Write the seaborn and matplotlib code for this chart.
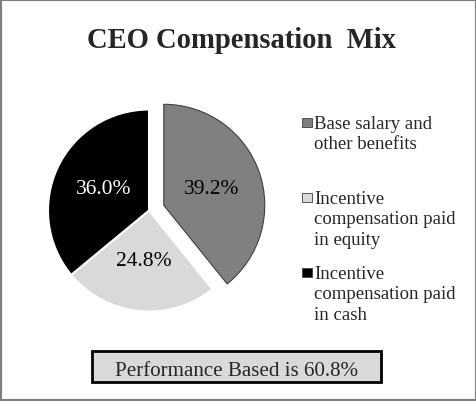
import matplotlib
matplotlib.use("Agg")
import matplotlib.pyplot as plt
from matplotlib.patches import Rectangle
import seaborn as sns

# ---- data ----
categories = ["Base salary and\nother benefits",
              "Incentive\ncompensation paid\nin equity",
              "Incentive\ncompensation paid\nin cash"]
values = [39.2, 24.8, 36.0]
slice_colors = ["#808080", "#d9d9d9", "#000000"]
label_colors = ["black", "black", "white"]
title = "CEO Compensation  Mix"
footer = "Performance Based is 60.8%"

sns.set_theme(style="white")
plt.rcParams['font.family'] = ['Liberation Serif', 'DejaVu Serif']

W, H = 477, 402
fig = plt.figure(figsize=(W / 100, H / 100), dpi=100)
fig.patch.set_facecolor("white")

def fx(px):
    return px / W

def fy(py):
    return 1 - py / H

# pie axes: center (149, 211.5) px, radius 101 px
cx, cy, R = 149, 211.5, 101
half = 1.5 * R
ax = fig.add_axes([fx(cx - half), fy(cy + half), 2 * half / W, 2 * half / H])
pal = sns.color_palette(slice_colors)
wedges, texts, autotexts = ax.pie(
    values, colors=pal, startangle=90, counterclock=False,
    explode=[0.155, 0, 0], autopct="%1.1f%%", pctdistance=0.5,
    wedgeprops=dict(edgecolor="white", linewidth=1.5),
    textprops=dict(fontsize=15.5))
wedges[0].set_edgecolor("#404040")
wedges[0].set_linewidth(0.8)
for t, c in zip(autotexts, label_colors):
    t.set_color(c)
ax.set_xlim(-1.5, 1.5)
ax.set_ylim(-1.5, 1.5)
ax.set_aspect("equal")
ax.axis("off")

# title
fig.text(fx(241.5), fy(48), title, ha="center", va="baseline",
         fontsize=20.6, fontweight="bold")

# legend (handles aligned with first line of each label)
for i, (lab, col) in enumerate(zip(categories, pal)):
    base = 129 + 75 * i
    fig.patches.append(Rectangle((fx(302), fy(base - 1)), 9.5 / W, 9.5 / H,
                                 transform=fig.transFigure, facecolor=col,
                                 edgecolor="#404040", linewidth=0.6))
    for j, line in enumerate(lab.split("\n")):
        fig.text(fx(314), fy(base + 20.3 * j), line, ha="left",
                 va="baseline", fontsize=13.5)

# footer box
fig.patches.append(Rectangle((fx(91.5), fy(382.5)), 290 / W, 31 / H,
                             transform=fig.transFigure, facecolor="#d9d9d9",
                             edgecolor="black", linewidth=2.0))
fig.text(fx(236.5), fy(376), footer, ha="center", va="baseline", fontsize=15.1)

# outer border
fig.patches.append(Rectangle((0, 0), 1, 1, transform=fig.transFigure,
                             fill=False, edgecolor="#808080", linewidth=3))

fig.savefig("out.png", dpi=100)
